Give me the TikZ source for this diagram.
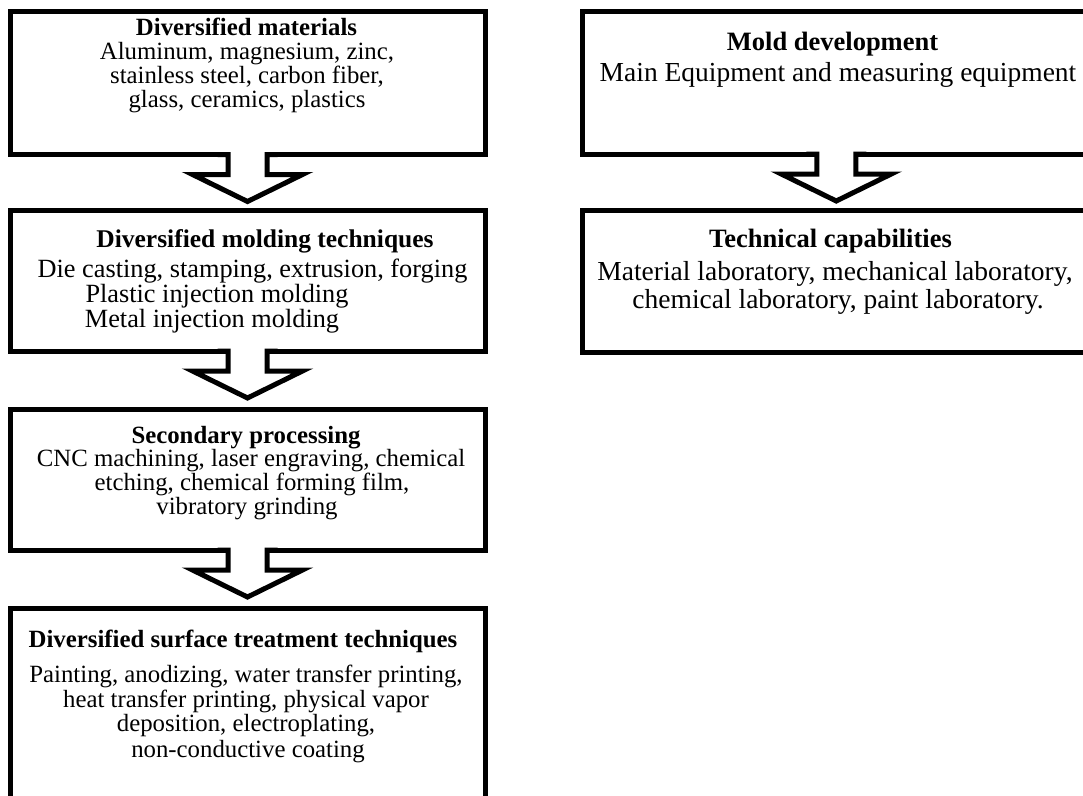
\documentclass[tikz,border=0pt]{standalone}
\usepackage{fontspec}
\setmainfont{Liberation Serif}
\usetikzlibrary{calc}
\tikzset{
  box/.style={draw, line width=5pt, fill=white, inner sep=0pt, outer sep=0pt, rectangle},
  txt/.style={anchor=base, inner sep=0pt, font=\fontsize{24.8}{25}\selectfont},
  ttl/.style={anchor=base, inner sep=0pt, font=\fontsize{24.8}{25}\selectfont\bfseries},
  txtb/.style={anchor=base, inner sep=0pt, font=\fontsize{26.3}{26}\selectfont},
  ttlb/.style={anchor=base, inner sep=0pt, font=\fontsize{25.5}{26}\selectfont\bfseries},
  txtr/.style={anchor=base, inner sep=0pt, font=\fontsize{27.5}{28}\selectfont},
  ttlr/.style={anchor=base, inner sep=0pt, font=\fontsize{26.5}{27}\selectfont\bfseries},
  blk/.style={line width=5pt, line join=miter},
}
\newcommand\blockarrow[2]{%
  \coordinate (#2) at (#1.south);
  \fill[white] ($(#2)+(-19.5,-3)$) -- ($(#2)+(-19.5,20)$) -- ($(#2)+(-55,20)$) -- ($(#2)+(0,47)$)
     -- ($(#2)+(55,20)$) -- ($(#2)+(19.5,20)$) -- ($(#2)+(19.5,-3)$) -- cycle;
  \draw[blk] ($(#2)+(-30,0)$) -- ($(#2)+(-19.5,0)$) -- ($(#2)+(-19.5,20)$) -- ($(#2)+(-55,20)$)
     -- ($(#2)+(0,47)$) -- ($(#2)+(55,20)$) -- ($(#2)+(19.5,20)$) -- ($(#2)+(19.5,0)$) -- ($(#2)+(30,0)$);
}
\begin{document}
\begin{tikzpicture}[x=1pt,y=-1pt]
\useasboundingbox (0,0) rectangle (1083,795);
\clip (0,0) rectangle (1083,795);
\fill[white] (0,0) rectangle (1083,795);

% left column boxes
\node[box, minimum width=475pt, minimum height=143pt] (b1) at (247.5,83) {};
\node[box, minimum width=475pt, minimum height=140.5pt] (b2) at (247.5,280.75) {};
\node[box, minimum width=475pt, minimum height=141pt] (b3) at (247.5,479.5) {};
\node[box, minimum width=475pt, minimum height=222pt] (b4) at (247.5,719) {};
% right column boxes
\node[box, minimum width=507.5pt, minimum height=142.5pt] (b5) at (836.25,82.75) {};
\node[box, minimum width=507.5pt, minimum height=142pt] (b6) at (836.25,281.5) {};

% block arrows
\blockarrow{b1}{a1}
\blockarrow{b2}{a2}
\blockarrow{b3}{a3}
\blockarrow{b5}{a5}

% texts box 1
\node[ttl] (t11) at (246.5,35) {Diversified materials};
\node[txt] (t12) at (247,59) {Aluminum, magnesium, zinc,};
\node[txt] (t13) at (247,83) {stainless steel, carbon fiber,};
\node[txt] (t14) at (247,107) {glass, ceramics, plastics};
% box 2
\node[ttlb] (t21) at (265,247) {Diversified molding techniques};
\node[txtb] (t22) at (252.5,277) {Die casting, stamping, extrusion, forging};
\node[txtb] (t23) at (217,302) {Plastic injection molding};
\node[txtb] (t24) at (212,327) {Metal injection molding};
% box 3
\node[ttl] (t31) at (246,443) {Secondary processing};
\node[txt] (t32) at (251,466) {CNC machining, laser engraving, chemical};
\node[txt] (t33) at (252,490) {etching, chemical forming film,};
\node[txt] (t34) at (247,514) {vibratory grinding};
% box 4
\node[ttl] (t41) at (243,647) {Diversified surface treatment techniques};
\node[txt] (t42) at (246,682) {Painting, anodizing, water transfer printing,};
\node[txt] (t43) at (246,707) {heat transfer printing, physical vapor};
\node[txt] (t44) at (246,731) {deposition, electroplating,};
\node[txt] (t45) at (248,757) {non-conductive coating};
% box 5
\node[ttlr] (t51) at (832.5,50) {Mold development};
\node[txtr] (t52) at (838,81) {Main Equipment and measuring equipment};
% box 6
\node[ttlr] (t61) at (830.5,247) {Technical capabilities};
\node[txtr] (t62) at (835,280) {Material laboratory, mechanical laboratory,};
\node[txtr] (t63) at (838,308) {chemical laboratory, paint laboratory.};
\end{tikzpicture}
\end{document}
